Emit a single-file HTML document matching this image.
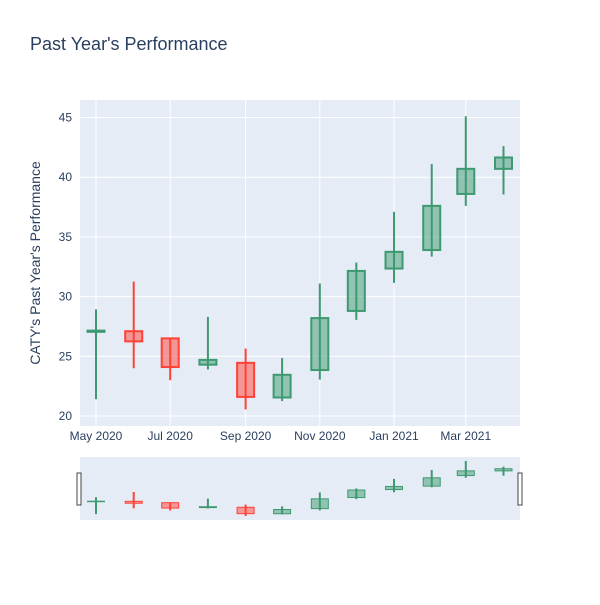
<!DOCTYPE html>
<html><head><meta charset="utf-8"><style>
body{margin:0;background:#fff;font-family:"Liberation Sans",sans-serif}
svg text{font-family:"Liberation Sans",sans-serif;fill:#2a3f5f}
</style></head><body>
<svg id="chart" width="600" height="600" xmlns="http://www.w3.org/2000/svg">
<rect width="600" height="600" fill="#fff"/>
<text x="30" y="50" font-size="18">Past Year's Performance</text>
<rect x="80" y="100" width="440" height="326" fill="#e5ecf6"/>
<rect x="80" y="457" width="440" height="63" fill="#e5ecf6"/>
<g id="grid"></g><g id="marks"></g><g id="mini"></g><g id="ticks"></g>
<text transform="translate(40,263) rotate(-90)" text-anchor="middle" font-size="14">CATY's Past Year's Performance</text>
<rect x="77" y="473" width="4" height="32" fill="#fff" stroke="#444"/>
<rect x="518" y="473" width="4" height="32" fill="#fff" stroke="#444"/>
</svg>
<script>
const dates=["2020-05-01","2020-06-01","2020-07-01","2020-08-01","2020-09-01","2020-10-01","2020-11-01","2020-12-01","2021-01-01","2021-02-01","2021-03-01","2021-04-01"];
const opens=[27.05,27.1,26.5,24.3,24.45,21.55,23.85,28.8,32.35,33.9,38.6,40.7];
const highs=[28.93,31.25,26.5,28.3,25.65,24.85,31.1,32.85,37.1,41.1,45.1,42.6];
const lows=[21.4,24.0,23.0,23.9,20.55,21.25,23.05,28.05,31.15,33.35,37.6,38.55];
const closes=[27.15,26.25,24.1,24.7,21.6,23.45,28.2,32.15,33.75,37.6,40.7,41.65];
const yTicks=[20,25,30,35,40,45];
const xTickDates=["2020-05-01","2020-07-01","2020-09-01","2020-11-01","2021-01-01","2021-03-01"];
const xTickLabels=["May 2020","Jul 2020","Sep 2020","Nov 2020","Jan 2021","Mar 2021"];
const NS="http://www.w3.org/2000/svg";
const t0=Date.parse("2020-05-01");
function x(d){return 96+(Date.parse(d)-t0)/86400000*1.2164;}
function y(v){return 416-(v-20)*11.94;}
function ym(v){return 516-(v-20.55)*2.24;}
function mk(tag,attrs,parent){const e=document.createElementNS(NS,tag);for(const k in attrs)e.setAttribute(k,attrs[k]);document.getElementById(parent).appendChild(e);return e;}
yTicks.forEach(v=>{
 const l=mk('line',{x1:80,x2:520,y1:y(v),y2:y(v),stroke:'#fff','stroke-width':1},'grid');
 
 
 const t=mk('text',{x:72,y:y(v)+4,'text-anchor':'end','font-size':12},'ticks');
 t.textContent=v;
 
 
});
xTickDates.forEach((d,i)=>{
 const l=mk('line',{x1:x(d),x2:x(d),y1:100,y2:426,stroke:'#fff','stroke-width':1},'grid');
 
 
 const t=mk('text',{x:x(d),y:440,'text-anchor':'middle','font-size':12},'ticks');
 t.textContent=xTickLabels[i];
 
 
});
function candle(i,fy,parent,w,sw){
 const up=closes[i]>=opens[i];
 const col=up?'#3d9970':'#ff4136', fill=up?'rgba(61,153,112,0.5)':'rgba(255,65,54,0.5)';
 const cx=x(dates[i]);
 const g=mk('g',{},parent);
 
 
 const top=Math.max(opens[i],closes[i]),bot=Math.min(opens[i],closes[i]);
 const a=document.createElementNS(NS,'line');
 a.setAttribute('x1',cx);a.setAttribute('x2',cx);a.setAttribute('y1',fy(highs[i]));a.setAttribute('y2',fy(lows[i]));a.setAttribute('stroke',col);a.setAttribute('stroke-width',2);g.appendChild(a);
 const r=document.createElementNS(NS,'rect');
 r.setAttribute('x',cx-w/2);r.setAttribute('width',w);r.setAttribute('y',fy(top));r.setAttribute('height',Math.max(fy(bot)-fy(top),0.5));r.setAttribute('fill',fill);r.setAttribute('stroke',col);r.setAttribute('stroke-width',sw);g.appendChild(r);
}
for(let i=0;i<dates.length;i++){candle(i,y,'marks',17,2);candle(i,ym,'mini',17,1);}
</script>
</body></html>
